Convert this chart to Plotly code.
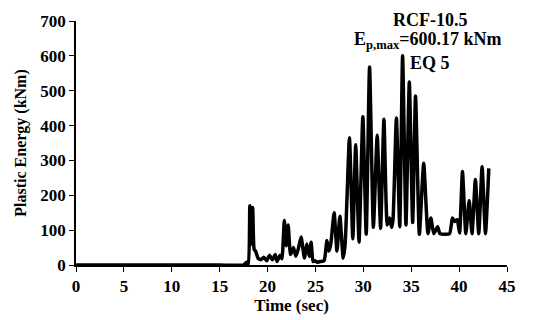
import plotly.graph_objects as go

time_sec = [0, 5, 10, 15, 17.5, 17.8, 18.0, 18.15, 18.35, 18.45, 18.6, 18.75, 19.0, 19.3, 19.6, 19.9, 20.2, 20.5, 20.8, 21.0, 21.3, 21.5,
            21.75, 21.95, 22.15, 22.4, 22.7, 22.95, 23.2, 23.5, 23.85, 24.1, 24.35, 24.55, 24.75, 24.95, 25.2, 25.5, 25.9,
            26.2, 26.4, 26.6, 26.95, 27.25, 27.55, 27.9, 28.1, 28.55, 28.9, 29.2, 29.55, 29.95, 30.3, 30.65, 31.05,
            31.45, 31.8, 32.15, 32.5, 32.75, 32.95, 33.1, 33.45, 33.8, 34.1, 34.45, 34.8, 35.15, 35.45, 35.85, 36.3,
            36.75, 37.05, 37.35, 37.75, 38.0, 39.0, 39.3, 39.55, 39.8, 40.05, 40.35, 40.7, 41.05, 41.35, 41.7, 42.05,
            42.4, 42.75, 43.1]
energy_knm = [0, 0, 0, 0, 0, 8, 3, 170, 60, 165, 45, 40, 20, 15, 22, 12, 28, 15, 30, 10, 28, 18,
              128, 55, 115, 30, 50, 25, 45, 80, 20, 60, 25, 65, 10, 12, 8, 10, 12,
              70, 40, 60, 150, 40, 140, 20, 60, 365, 75, 345, 66, 425, 88, 568, 108,
              372, 105, 418, 115, 135, 108, 130, 422, 110, 600, 115, 525, 122, 485, 88, 292,
              90, 135, 90, 110, 90, 90, 135, 125, 130, 92, 268, 90, 185, 90, 245, 90,
              282, 90, 277]

x_ticks = list(range(0, 46, 5))
y_ticks = list(range(0, 701, 100))

fig = go.Figure()
fig.add_trace(go.Scatter(x=time_sec, y=energy_knm, mode="lines",
                         line=dict(color="black", width=3.5, shape="spline", smoothing=0.5),
                         showlegend=False))

font_fam = "Liberation Serif"
tfont = dict(family=font_fam, size=17, color="black", weight="bold")
fig.update_layout(
    width=545, height=320,
    margin=dict(l=76, r=38, t=21, b=53),
    paper_bgcolor="white", plot_bgcolor="white",
    font=dict(family=font_fam, size=17, color="black"),
    xaxis=dict(range=[0, 45], tickvals=x_ticks, ticktext=[str(v) for v in x_ticks],
               showline=True, linecolor="black", linewidth=1.5,
               ticks="outside", ticklen=5, tickcolor="black", showgrid=False, zeroline=False,
               tickfont=tfont,
               title=dict(text="Time (sec)", font=dict(family=font_fam, size=17, weight="bold"), standoff=0)),
    yaxis=dict(range=[0, 700], tickvals=y_ticks, ticktext=[str(v) for v in y_ticks],
               showline=True, linecolor="black", linewidth=1.5,
               ticks="outside", ticklen=5, tickcolor="black", showgrid=False, zeroline=False,
               tickfont=tfont,
               title=dict(text="Plastic Energy (kNm)", font=dict(family=font_fam, size=16, weight="bold"), standoff=10)),
)

fig.add_annotation(xref="paper", yref="paper", x=(430 - 76) / 431, y=(267 - 20) / 246, showarrow=False,
                   text="RCF-10.5", font=dict(family=font_fam, size=18, weight="bold"), xanchor="center", yanchor="middle")
fig.add_annotation(xref="paper", yref="paper", x=(428 - 76) / 431, y=(267 - 41) / 246, showarrow=False,
                   text="E<sub>p,max</sub>=600.17 kNm", font=dict(family=font_fam, size=18, weight="bold"), xanchor="center", yanchor="middle")
fig.add_annotation(xref="paper", yref="paper", x=(430 - 76) / 431, y=(267 - 63) / 246, showarrow=False,
                   text="EQ 5", font=dict(family=font_fam, size=18, weight="bold"), xanchor="center", yanchor="middle")

fig.write_html("out.html")
